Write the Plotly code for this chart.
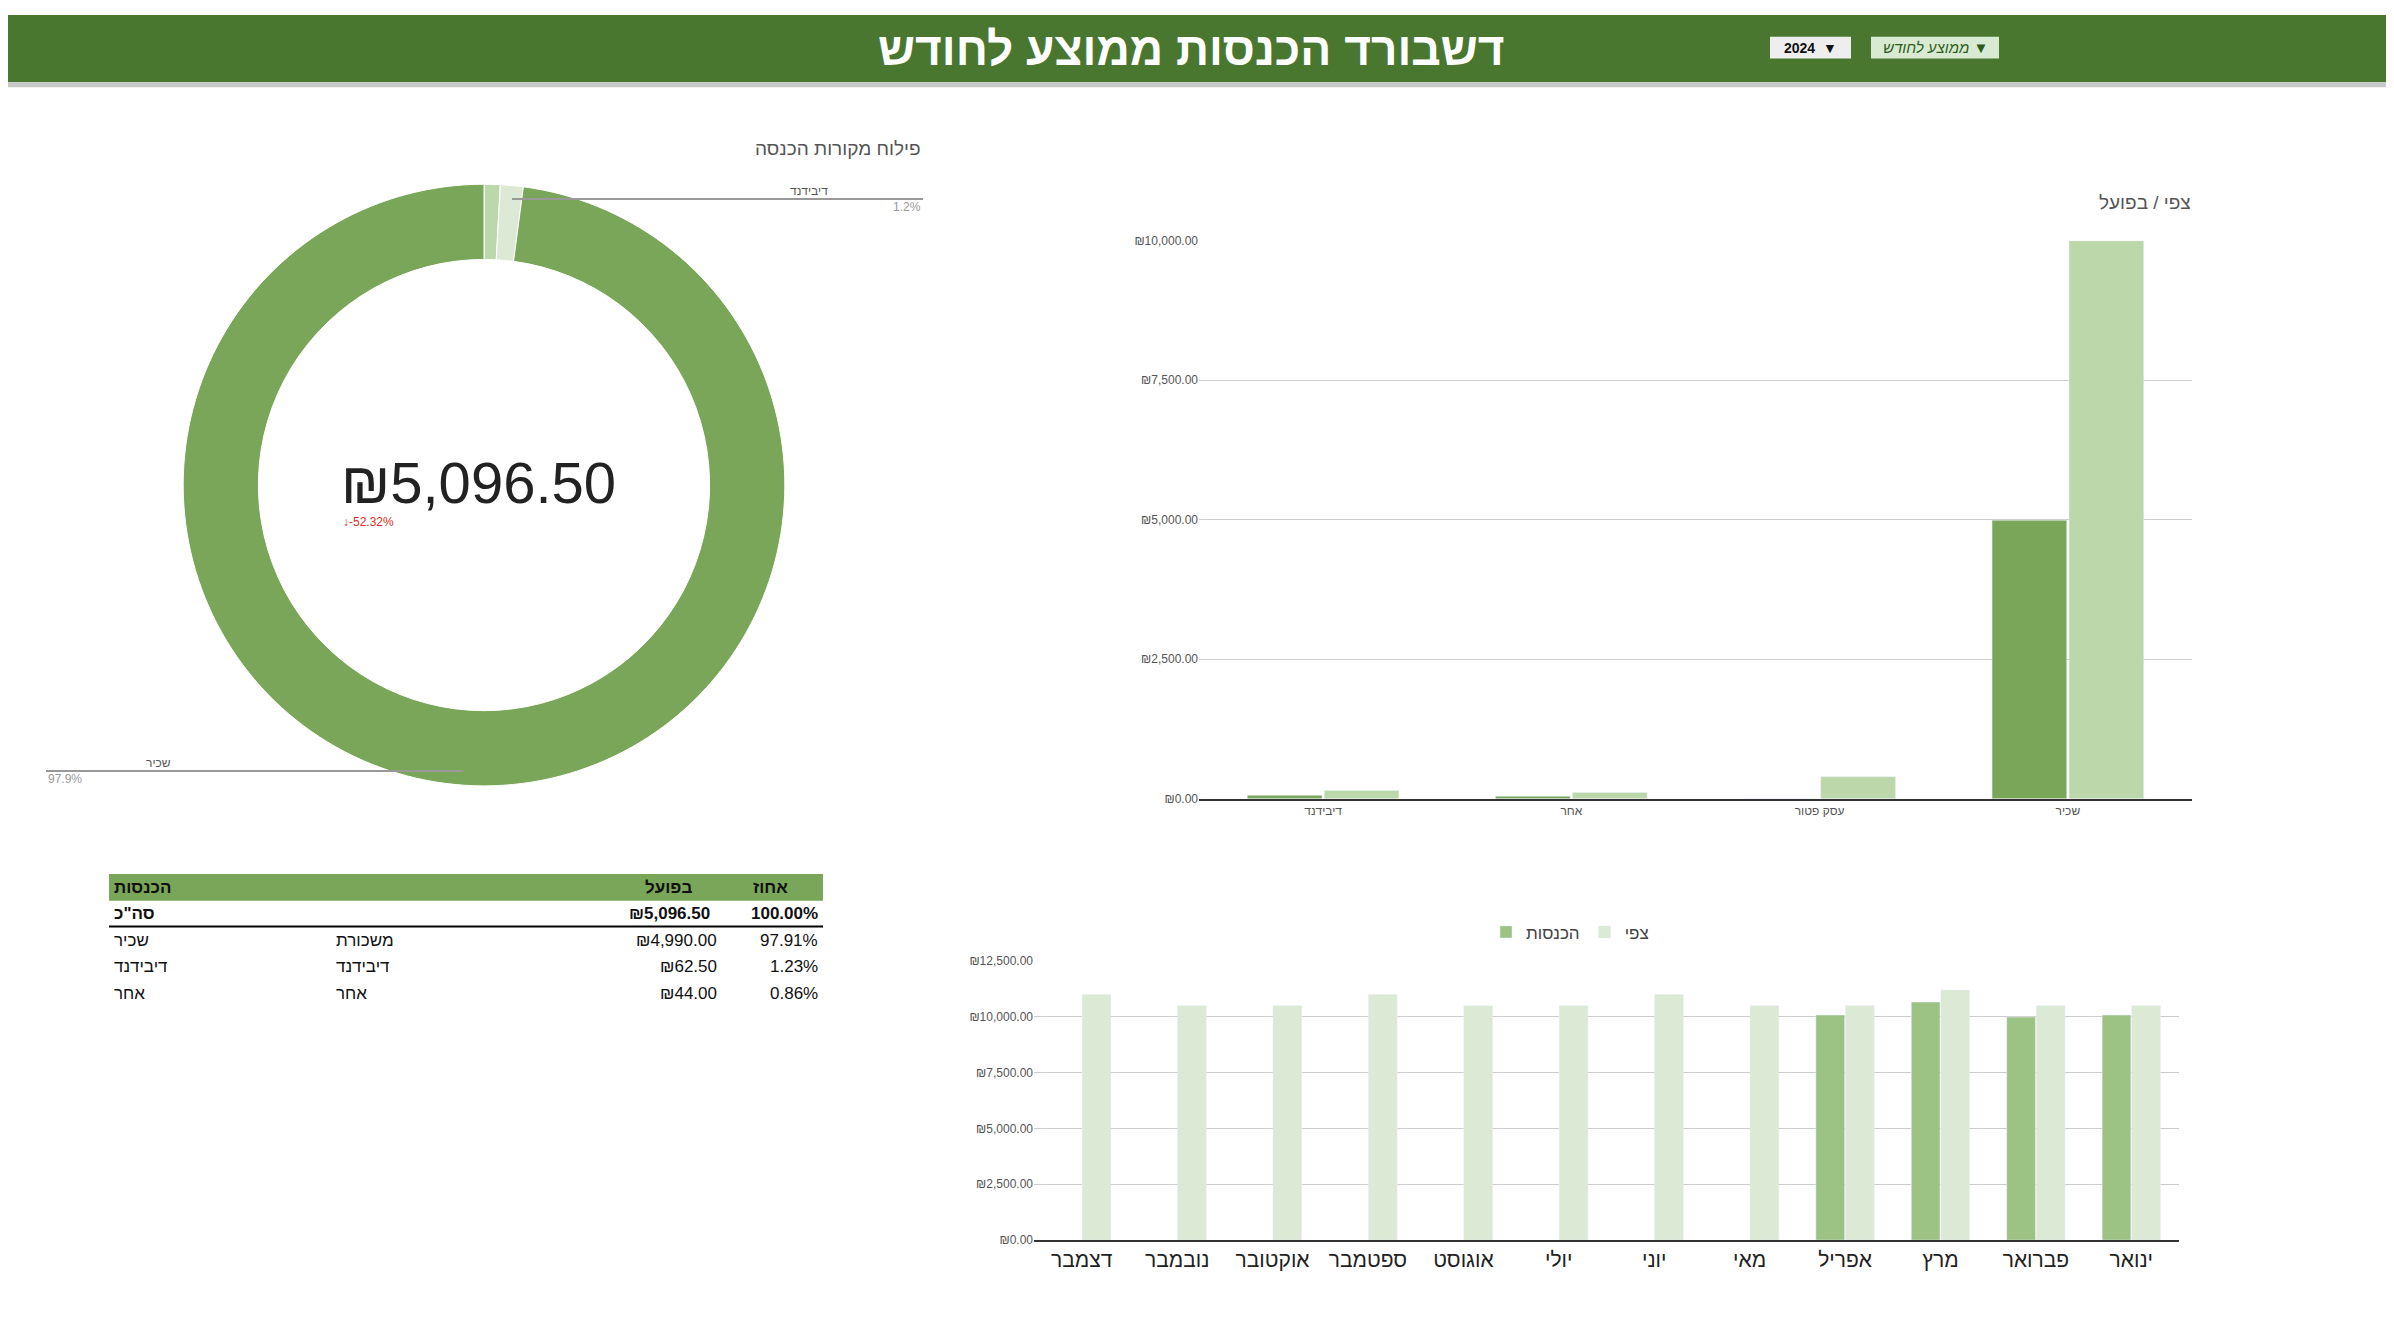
import plotly.graph_objects as go

# donut / table data
source_names = ["אחר", "דיבידנד", "שכיר"]
source_values = [44.00, 62.50, 4990.00]
source_colors = ["#bcd7a9", "#dce9d4", "#79a659"]

table_names = ["שכיר", "דיבידנד", "אחר"]
table_sub = ["משכורת", "דיבידנד", "אחר"]
table_amounts = ["₪4,990.00", "₪62.50", "₪44.00"]
table_pct = ["97.91%", "1.23%", "0.86%"]
total_amount = "₪5,096.50"
total_change = "↓-52.32%"

# expected vs actual by category (display order left to right)
cat_names = ["דיבידנד", "אחר", "עסק פטור", "שכיר"]
cat_actual = [62.5, 44, 0, 4990]
cat_expected = [148, 112, 395, 10000]

# monthly
months = ["ינואר", "פברואר", "מרץ", "אפריל", "מאי", "יוני", "יולי", "אוגוסט", "ספטמבר", "אוקטובר", "נובמבר", "דצמבר"]
month_actual = [10080, 9990, 10660, 10080, None, None, None, None, None, None, None, None]
month_expected = [10500, 10500, 11200, 10500, 10500, 11000, 10500, 10500, 11000, 10500, 10500, 11000]

W, H = 2394, 1344
FONT = "Liberation Sans"


def px(x):
    return x / W


def py(y):
    return 1 - y / H


fig = go.Figure()

# donut
fig.add_trace(go.Pie(
    labels=source_names, values=source_values, hole=0.75, sort=False,
    direction="clockwise", rotation=0, textinfo="none", showlegend=False,
    marker=dict(colors=source_colors, line=dict(color="white", width=1)),
    domain=dict(x=[px(171), px(781)], y=[py(779), py(171)])))

# category bars
fig.add_trace(go.Bar(x=cat_names, y=cat_actual, name="בפועל", marker_color="#79a659",
                     xaxis="x", yaxis="y", showlegend=False))
fig.add_trace(go.Bar(x=cat_names, y=cat_expected, name="צפי", marker_color="#bcd7a9",
                     xaxis="x", yaxis="y", showlegend=False))

# monthly bars (reversed axis -> expected first so it sits on the right)
fig.add_trace(go.Bar(x=months, y=month_expected, name="צפי", marker_color="#dce9d5",
                     xaxis="x2", yaxis="y2", legendrank=2))
fig.add_trace(go.Bar(x=months, y=month_actual, name="הכנסות", marker_color="#9dc384",
                     xaxis="x2", yaxis="y2", legendrank=1))

tick_font = dict(family=FONT, size=12, color="#555555")
fig.update_layout(
    width=W, height=H, margin=dict(l=0, r=0, t=0, b=0),
    paper_bgcolor="white", plot_bgcolor="white",
    font=dict(family=FONT),
    barmode="group", bargap=0.38, bargroupgap=0.03,
    xaxis=dict(domain=[px(1191), px(2184)], anchor="y", tickfont=tick_font,
               showline=True, linecolor="#333333", linewidth=2, ticks=""),
    yaxis=dict(domain=[py(792), py(228)], anchor="x", range=[0, 10000], dtick=2500,
               tickprefix="₪", tickformat=",.2f", tickfont=tick_font,
               gridcolor="#cccccc", zeroline=False, ticks=""),
    xaxis2=dict(domain=[px(1026), px(2171)], anchor="y2", autorange="reversed",
                tickfont=dict(family=FONT, size=21, color="#222222"),
                showline=True, linecolor="#333333", linewidth=2, ticks=""),
    yaxis2=dict(domain=[py(1238), py(956)], anchor="x2", range=[0, 12500], dtick=2500,
                tickprefix="₪", tickformat=",.2f", tickfont=tick_font,
                gridcolor="#cccccc", zeroline=False, ticks=""),
    legend=dict(orientation="h", x=px(1562), xanchor="center", y=py(927), yanchor="middle",
                font=dict(family=FONT, size=17, color="#444444"), bgcolor="rgba(0,0,0,0)"),
)

shapes = []
annotations = []

# header
shapes.append(dict(type="rect", xref="paper", yref="paper", x0=0, x1=1, y0=py(68), y1=1,
                   fillcolor="#4a7730", line_width=0, layer="below"))
shapes.append(dict(type="rect", xref="paper", yref="paper", x0=0, x1=1, y0=py(73), y1=py(68),
                   fillcolor="#c8c8c8", line_width=0, layer="below"))
annotations.append(dict(text="<b>דשבורד הכנסות ממוצע לחודש</b>", x=px(1183), y=py(34),
                        font=dict(family=FONT, size=46, color="white")))
shapes.append(dict(type="rect", xref="paper", yref="paper", x0=px(1762), x1=px(1843), y0=py(44), y1=py(22),
                   fillcolor="#eeeeee", line_width=0))
annotations.append(dict(text="<b>2024</b>  ▼", x=px(1802), y=py(33),
                        font=dict(family=FONT, size=14, color="#111111")))
shapes.append(dict(type="rect", xref="paper", yref="paper", x0=px(1863), x1=px(1991), y0=py(44), y1=py(22),
                   fillcolor="#d9ead3", line_width=0))
annotations.append(dict(text="<i>ממוצע לחודש</i> ▼", x=px(1927), y=py(33),
                        font=dict(family=FONT, size=15, color="#2e5a1c")))

# donut texts
annotations.append(dict(text="פילוח מקורות הכנסה", x=px(915), y=py(135), xanchor="right",
                        font=dict(family=FONT, size=19, color="#555555")))
annotations.append(dict(text=total_amount, x=px(470), y=py(472),
                        font=dict(family=FONT, size=58, color="#222222")))
annotations.append(dict(text=total_change, x=px(333), y=py(512), xanchor="left",
                        font=dict(family=FONT, size=12, color="#d93025")))
shapes.append(dict(type="line", xref="paper", yref="paper", x0=px(504), x1=px(915), y0=py(186), y1=py(186),
                   line=dict(color="#999999", width=2)))
annotations.append(dict(text="דיבידנד", x=px(822), y=py(178), xanchor="right",
                        font=dict(family=FONT, size=12, color="#555555")))
annotations.append(dict(text="1.2%", x=px(915), y=py(194), xanchor="right",
                        font=dict(family=FONT, size=12, color="#999999")))
shapes.append(dict(type="line", xref="paper", yref="paper", x0=px(38), x1=px(455), y0=py(764), y1=py(764),
                   line=dict(color="#999999", width=2)))
annotations.append(dict(text="שכיר", x=px(165), y=py(756), xanchor="right",
                        font=dict(family=FONT, size=12, color="#555555")))
annotations.append(dict(text="97.9%", x=px(38), y=py(772), xanchor="left",
                        font=dict(family=FONT, size=12, color="#999999")))

# bar chart title
annotations.append(dict(text="צפי / בפועל", x=px(2185), y=py(189), xanchor="right",
                        font=dict(family=FONT, size=19, color="#555555")))

# table
shapes.append(dict(type="rect", xref="paper", yref="paper", x0=px(101), x1=px(815), y0=py(895), y1=py(868),
                   fillcolor="#79a659", line_width=0))
shapes.append(dict(type="line", xref="paper", yref="paper", x0=px(101), x1=px(815), y0=py(921), y1=py(921),
                   line=dict(color="#000000", width=2)))
tf = dict(family=FONT, size=17, color="#111111")
annotations.append(dict(text="<b>הכנסות</b>", x=px(104), y=py(882), xanchor="left", font=tf))
annotations.append(dict(text="<b>בפועל</b>", x=px(686), y=py(882), xanchor="right", font=tf))
annotations.append(dict(text="<b>אחוז</b>", x=px(782), y=py(882), xanchor="right", font=tf))
annotations.append(dict(text='<b>סה"כ</b>', x=px(104), y=py(908), xanchor="left", font=tf))
annotations.append(dict(text="<b>" + total_amount + "</b>", x=px(704), y=py(908), xanchor="right", font=tf))
annotations.append(dict(text="<b>100.00%</b>", x=px(812), y=py(908), xanchor="right", font=tf))
for i in range(len(table_names)):
    yy = py(935 + i * 27)
    annotations.append(dict(text=table_names[i], x=px(104), y=yy, xanchor="left", font=tf))
    annotations.append(dict(text=table_sub[i], x=px(326), y=yy, xanchor="left", font=tf))
    annotations.append(dict(text=table_amounts[i], x=px(711), y=yy, xanchor="right", font=tf))
    annotations.append(dict(text=table_pct[i], x=px(812), y=yy, xanchor="right", font=tf))

for a in annotations:
    a.setdefault("xref", "paper")
    a.setdefault("yref", "paper")
    a.setdefault("showarrow", False)
    a.setdefault("xanchor", "center")
    a.setdefault("yanchor", "middle")

fig.update_layout(shapes=shapes, annotations=annotations)

fig.write_html("out.html")
